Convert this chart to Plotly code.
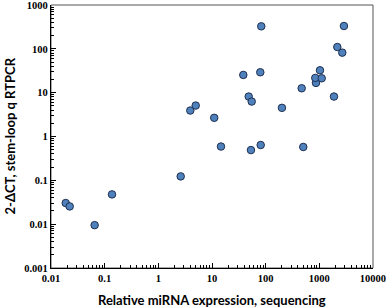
import plotly.graph_objects as go

# Relative miRNA expression (sequencing) vs 2^-ΔCT (stem-loop qRT-PCR)
seq_expr = [0.0188, 0.0223, 0.065, 0.137, 2.61, 3.94, 4.97, 11.0, 14.7, 53.2,
            80.8, 502, 201, 48.3, 54.9, 38.3, 79.4, 82.8, 469, 866,
            841, 1107, 1028, 1875, 2162, 2678, 2877]
qpcr_expr = [0.0303, 0.0254, 0.0095, 0.0478, 0.123, 3.91, 5.08, 2.67, 0.59, 0.49,
             0.64, 0.577, 4.51, 8.15, 6.27, 25.4, 29.2, 326, 12.6, 16.7,
             21.7, 21.3, 32.4, 8.15, 110, 81.9, 332]

x_tickvals = [0.01, 0.1, 1, 10, 100, 1000, 10000]
x_ticktext = ["0.01", "0.1", "1", "10", "100", "1000", "10000"]
y_tickvals = [0.001, 0.01, 0.1, 1, 10, 100, 1000]
y_ticktext = ["0.001", "0.01", "0.1", "1", "10", "100", "1000"]

x_title = "Relative miRNA expression, sequencing"
y_title = "2-ΔCT, stem-loop q RTPCR"

fig = go.Figure()
fig.add_trace(go.Scatter(
    x=seq_expr, y=qpcr_expr, mode="markers",
    marker=dict(size=7.5, color="#4F81BD", line=dict(color="#1F2F4F", width=1)),
    showlegend=False, cliponaxis=False,
))

tickfont = dict(family="Liberation Serif, Times New Roman, serif", size=10.5, color="black")
axis_common = dict(
    type="log", showgrid=False, zeroline=False, automargin=False,
    showline=True, linecolor="black", linewidth=1.2,
    ticks="inside", ticklen=5, tickcolor="black", tickwidth=1,
    minor=dict(ticks="inside", ticklen=3, tickcolor="black", dtick="D1", showgrid=False),
    tickfont=tickfont, ticklabeloverflow="allow",
)

fig.update_xaxes(range=[-2.0002, 4.0002], tickvals=x_tickvals,
                 ticktext=["<b>" + t + "</b>" for t in x_ticktext],
                 ticklabelstandoff=0, **axis_common)
fig.update_yaxes(range=[-3.0002, 3.0002], tickvals=y_tickvals,
                 ticktext=["<b>" + t + "</b>" for t in y_ticktext], **axis_common)

fig.add_shape(type="rect", xref="paper", yref="paper", x0=0, x1=1, y0=0, y1=1,
              line=dict(color="#555555", width=1), layer="below")

titlefont = dict(family="Lato", size=13, color="black")
fig.add_annotation(text="<b>" + x_title + "</b>", xref="paper", yref="paper",
                   x=0.5, y=0, yshift=-32, showarrow=False, font=titlefont,
                   xanchor="center", yanchor="middle")
fig.add_annotation(text="<b>" + y_title + "</b>", xref="paper", yref="paper",
                   x=0, y=0.5, xshift=-42, showarrow=False, font=titlefont,
                   textangle=-90, xanchor="center", yanchor="middle")

fig.update_layout(
    width=387, height=307,
    margin=dict(l=51, r=14, t=5, b=39),
    paper_bgcolor="white", plot_bgcolor="white",
)

fig.write_html("out.html", config={"displayModeBar": False},
               post_script="document.body.style.margin='0px';document.body.style.overflow='hidden';")
